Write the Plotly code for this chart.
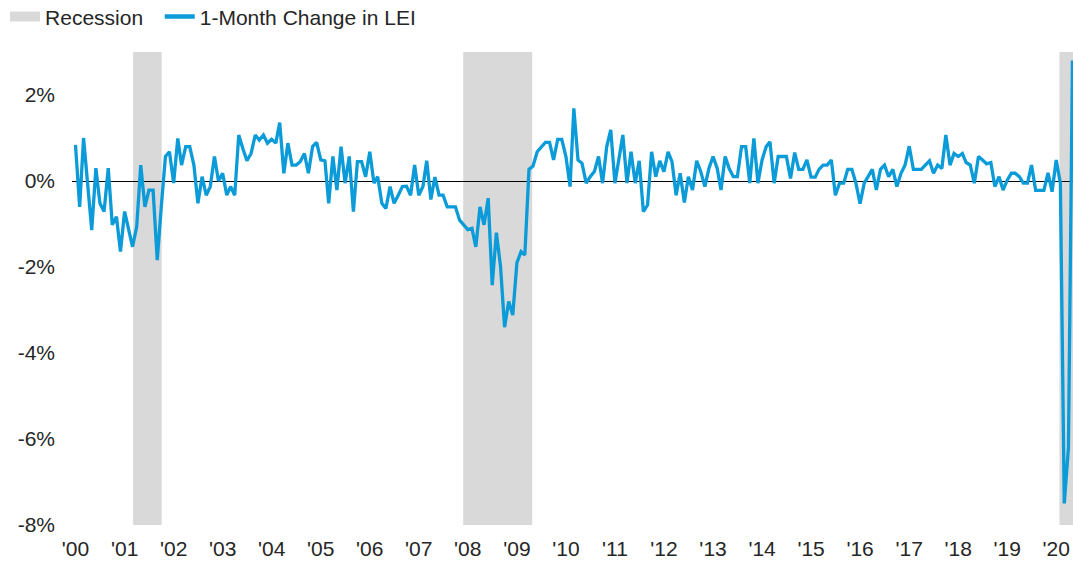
import pandas as pd
import plotly.graph_objects as go

# Monthly 1-month % change in the LEI, Jan 2000 - May 2020
lei_2000 = [0.84, -0.6, 1.0, -0.1, -1.14, 0.3, -0.52, -0.71, 0.3, -1.02, -0.83, -1.64]
lei_2001 = [-0.71, -1.14, -1.53, -1.06, 0.37, -0.6, -0.21, -0.21, -1.84, -0.6, 0.57, 0.68]
lei_2002 = [-0.05, 0.99, 0.37, 0.8, 0.8, 0.37, -0.52, 0.1, -0.33, -0.13, 0.57, 0.0]
lei_2003 = [0.18, -0.33, -0.13, -0.33, 1.07, 0.75, 0.47, 0.64, 1.07, 0.95, 1.07, 0.88]
lei_2004 = [0.97, 0.88, 1.36, 0.18, 0.88, 0.37, 0.37, 0.45, 0.64, 0.18, 0.8, 0.9]
lei_2005 = [0.49, 0.47, -0.52, 0.57, -0.21, 0.8, -0.05, 0.57, -0.71, 0.45, 0.45, 0.1]
lei_2006 = [0.68, -0.05, 0.1, -0.52, -0.64, -0.13, -0.52, -0.33, -0.13, -0.12, -0.33, 0.37]
lei_2007 = [-0.33, -0.13, 0.47, -0.43, 0.09, -0.33, -0.33, -0.6, -0.6, -0.6, -0.91, -1.02]
lei_2008 = [-1.13, -1.1, -1.53, -0.6, -1.02, -0.4, -2.42, -1.2, -1.99, -3.4, -2.8, -3.12]
lei_2009 = [-1.9, -1.64, -1.72, 0.27, 0.35, 0.68, 0.8, 0.9, 0.9, 0.49, 0.97, 0.97]
lei_2010 = [0.57, -0.13, 1.69, 0.49, 0.41, -0.05, 0.1, 0.22, 0.57, -0.05, 0.8, 1.19]
lei_2011 = [-0.05, 0.53, 1.07, -0.05, 0.68, -0.05, 0.47, -0.71, -0.56, 0.68, 0.1, 0.47]
lei_2012 = [0.22, 0.68, 0.45, -0.33, 0.18, -0.5, 0.1, -0.21, 0.47, 0.22, -0.13, 0.29]
lei_2013 = [0.57, 0.29, -0.21, 0.57, 0.29, 0.1, 0.1, 0.8, 0.8, -0.05, 0.99, -0.05]
lei_2014 = [0.49, 0.8, 0.91, -0.05, 0.57, 0.57, 0.57, 0.06, 0.66, 0.27, 0.27, 0.49]
lei_2015 = [0.09, 0.09, 0.27, 0.37, 0.37, 0.49, -0.33, -0.05, -0.05, 0.27, 0.27, -0.05]
lei_2016 = [-0.53, -0.05, 0.1, 0.27, -0.21, 0.27, 0.37, 0.1, 0.27, -0.13, 0.18, 0.37]
lei_2017 = [0.81, 0.27, 0.27, 0.27, 0.37, 0.47, 0.18, 0.37, 0.29, 1.07, 0.37, 0.64]
lei_2018 = [0.57, 0.64, 0.43, 0.37, -0.05, 0.57, 0.49, 0.4, 0.43, -0.13, 0.1, -0.21]
lei_2019 = [0.02, 0.18, 0.18, 0.1, -0.05, -0.05, 0.37, -0.22, -0.22, -0.22, 0.19, -0.25]
lei_2020 = [0.49, -0.05, -7.5, -6.2, 2.8]

lei_change = (lei_2000 + lei_2001 + lei_2002 + lei_2003 + lei_2004 + lei_2005 +
              lei_2006 + lei_2007 + lei_2008 + lei_2009 + lei_2010 + lei_2011 +
              lei_2012 + lei_2013 + lei_2014 + lei_2015 + lei_2016 + lei_2017 +
              lei_2018 + lei_2019 + lei_2020)
months = pd.date_range("2000-01-01", periods=len(lei_change), freq="MS")

# Recession shading periods
rec_start = ["2001-03-05", "2007-11-28", "2020-01-25"]
rec_end = ["2001-10-04", "2009-04-25", "2020-06-30"]

# Axis ticks
x_tick_years = list(range(2000, 2021))
x_tick_text = ["'%02d" % (y % 100) for y in x_tick_years]
y_tick_vals = [2, 0, -2, -4, -6, -8]
y_tick_text = ["2%", "0%", "-2%", "-4%", "-6%", "-8%"]

FONT = "Liberation Sans, Arial, sans-serif"
GRAY = "#D9D9D9"
BLUE = "#0A9BD8"

fig = go.Figure()

# legend entries (non-breaking spaces only widen the gap between entries)
fig.add_trace(go.Scatter(x=[None], y=[None], mode="lines",
                         name="Recession\u00a0\u00a0",
                         line=dict(color=GRAY, width=13)))
fig.add_trace(go.Scatter(x=[None], y=[None], mode="lines",
                         name="1-Month Change in LEI",
                         line=dict(color=BLUE, width=4.5)))
# data line
fig.add_trace(go.Scatter(x=months, y=lei_change, mode="lines",
                         name="1-Month Change in LEI", showlegend=False,
                         line=dict(color=BLUE, width=3.3)))

for s, e in zip(rec_start, rec_end):
    fig.add_shape(type="rect", xref="x", yref="paper", x0=s, x1=e, y0=0, y1=1,
                  fillcolor=GRAY, line=dict(width=0), layer="below")

fig.update_layout(
    width=1073, height=565,
    margin=dict(l=72, r=0, t=52, b=40, autoexpand=False),
    paper_bgcolor="white", plot_bgcolor="white",
    font=dict(family=FONT, size=21, color="#262626"),
    showlegend=True,
    legend=dict(orientation="h", xref="container", x=0.0047, xanchor="left",
                yref="container", y=0.970, yanchor="middle",
                font=dict(size=21, color="#262626"), bgcolor="rgba(0,0,0,0)",
                traceorder="normal"),
    xaxis=dict(type="date", range=["1999-12-06", "2020-05-05"],
               tickvals=[pd.Timestamp(f"{y}-01-01") for y in x_tick_years],
               ticktext=x_tick_text, showgrid=False, zeroline=False,
               showline=False, ticks="", ticklabelstandoff=9),
    yaxis=dict(range=[-8, 3], tickvals=y_tick_vals, ticktext=y_tick_text,
               showgrid=False, zeroline=True, zerolinecolor="black",
               zerolinewidth=1, showline=False, ticks="", ticklabelstandoff=16),
)

fig.write_html("out.html", config={"displayModeBar": False},
               post_script="document.body.style.margin='0';document.body.style.overflow='hidden';")
